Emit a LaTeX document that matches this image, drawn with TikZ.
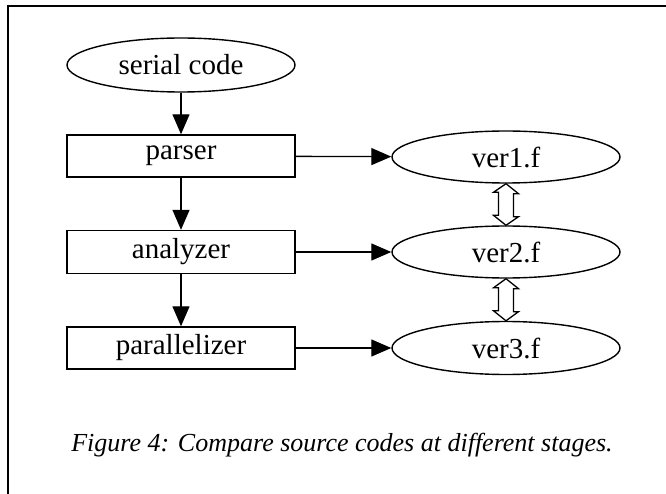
\documentclass[tikz,border=0pt]{standalone}
\usepackage{fontspec}
\setmainfont{Liberation Serif}
\usetikzlibrary{shapes.geometric,arrows.meta}
\begin{document}
\begin{tikzpicture}[x=1pt,y=-1pt,
  base/.style={draw,line width=1.4pt,inner sep=0pt,font=\fontsize{29}{32}\selectfont},
  oval/.style={base,ellipse,minimum width=228pt,minimum height=52pt},
  stepbox/.style={base,rectangle,minimum width=228pt,minimum height=42pt},
  flow/.style={line width=1.3pt,-{Triangle[length=20pt,width=17pt]}},
  hollow/.style={line width=1.3pt,fill=white,line join=miter}]
\useasboundingbox (0,0) rectangle (666,494);
\draw[line width=2.4pt] (8,494) -- (8,6) -- (666,6);
\node[oval,minimum height=54pt] (serial) at (181,65) {serial code};
\node[stepbox] (parser) at (181,156) {parser};
\node[stepbox,minimum height=43pt] (analyzer) at (181,252) {analyzer};
\node[stepbox] (par) at (181,348) {parallelizer};
\node[oval] (v1) at (506,157) {ver1.f};
\node[oval] (v2) at (506,252) {ver2.f};
\node[oval,minimum height=53pt] (v3) at (506,348) {ver3.f};
\node[font=\fontsize{26}{29}\selectfont\itshape] (cap) at (342,445) {Figure 4: Compare source codes at different stages.};
\draw[flow] (serial) -- (parser);
\draw[flow] (parser) -- (analyzer);
\draw[flow] (analyzer) -- (par);
\draw[flow] (parser) -- (v1);
\draw[flow] (analyzer) -- (v2);
\draw[flow] (par) -- (v3);
\draw[hollow] (v1.south) -- ++(12.5,10) -- ++(-5,0) -- ++(0,23) -- ++(5,0) -- (v2.north)
  -- ++(-12.5,-10) -- ++(5,0) -- ++(0,-23) -- ++(-5,0) -- cycle;
\draw[hollow] (v2.south) -- ++(12.5,10) -- ++(-5,0) -- ++(0,23) -- ++(5,0) -- (v3.north)
  -- ++(-12.5,-10) -- ++(5,0) -- ++(0,-23) -- ++(-5,0) -- cycle;
\end{tikzpicture}
\end{document}
